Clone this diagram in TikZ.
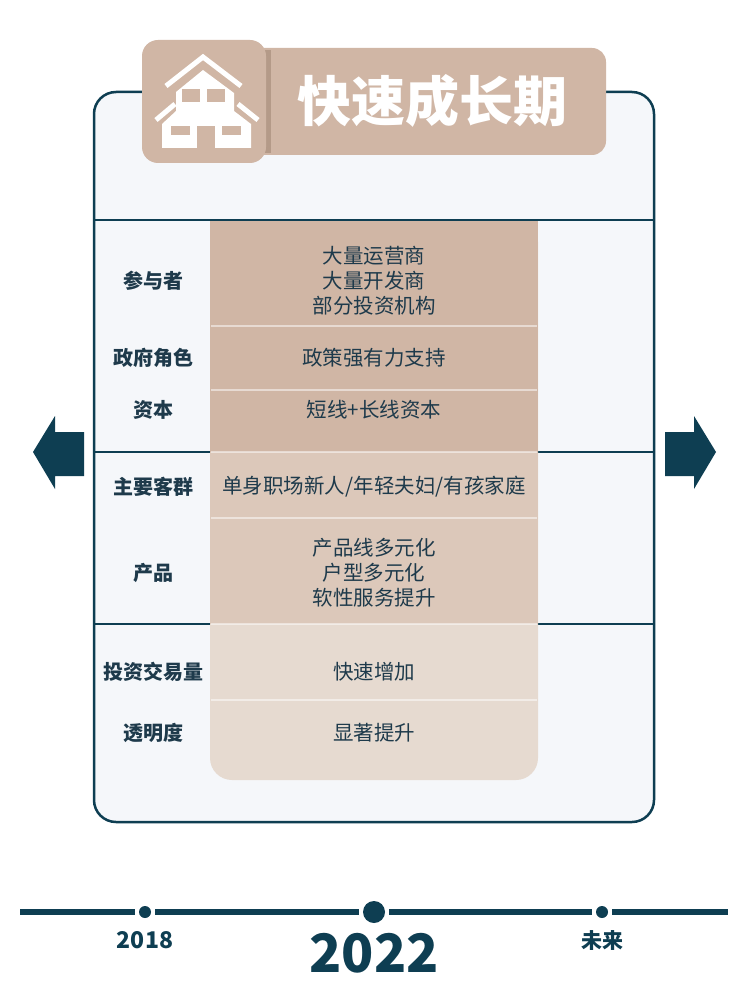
\documentclass[tikz,border=0pt]{standalone}
\usepackage{fontspec}
\setmainfont{Noto Sans CJK SC}
\usepackage{xcolor}
\usepackage{tikz}
\usetikzlibrary{positioning}
\definecolor{deepteal}{HTML}{0E3E52}
\definecolor{inkblue}{HTML}{1E3A4B}
\definecolor{panel}{HTML}{F5F7FA}
\definecolor{tanA}{HTML}{D0B6A5}
\definecolor{tanB}{HTML}{DCC8BA}
\definecolor{tanC}{HTML}{E6DAD0}
\definecolor{tanD}{HTML}{B49A88}
\tikzstyle{rowlabel} = [text=inkblue, font=\bfseries\fontsize{20}{24}\selectfont, align=center]
\tikzstyle{cell} = [text=inkblue, font=\fontsize{20.5}{25}\selectfont, align=center]
\tikzstyle{divider} = [draw=deepteal, line width=2.5pt]
\tikzstyle{seam} = [draw=white, opacity=0.5, line width=2pt]
\tikzstyle{dot} = [circle, fill=deepteal, inner sep=0pt, minimum size=12pt, outer sep=4pt]
\tikzstyle{year} = [text=deepteal, inner sep=0pt, font=\bfseries\fontsize{23}{26}\selectfont]

\begin{document}
\begin{tikzpicture}[x=1pt, y=-1pt]
  \useasboundingbox[fill=white] (0,0) rectangle (744,1000);
  \draw[deepteal, line width=2.5pt, fill=panel, rounded corners=22pt] (94,92) rectangle (654,822);
  \draw[divider] (94,452) -- (654,452);
  \draw[divider] (94,624) -- (654,624);
  \fill[tanC, rounded corners=22pt] (210,220) rectangle (538,780);
  \fill[tanA] (210,220) rectangle (538,452);
  \fill[tanB] (210,452) rectangle (538,624);
  \draw[divider] (94,220) -- (654,220);
  \foreach \y in {326,390,452,518,624,700}
    \draw[seam] (211,\y) -- (537,\y);
  \node[rowlabel] (l1) at (153,281) {参与者};
  \node[rowlabel] (l2) at (153,358) {政府角色};
  \node[rowlabel] (l3) at (153,410) {资本};
  \node[rowlabel] (l4) at (153,487) {主要客群};
  \node[rowlabel] (l5) at (153,573) {产品};
  \node[rowlabel] (l6) at (153,672) {投资交易量};
  \node[rowlabel] (l7) at (153,733) {透明度};
  \node[cell] (c1) at (374,281) {大量运营商\\大量开发商\\部分投资机构};
  \node[cell] (c2) at (374,358) {政策强有力支持};
  \node[cell] (c3) at (374,410) {短线+长线资本};
  \node[cell] (c4) at (374,487) {单身职场新人/年轻夫妇/有孩家庭};
  \node[cell] (c5) at (374,573) {产品线多元化\\户型多元化\\软性服务提升};
  \node[cell] (c6) at (374,672) {快速增加};
  \node[cell] (c7) at (374,733) {显著提升};
  \fill[tanA, rounded corners=14pt] (250,48) rectangle (606,155);
  \fill[tanD] (262,50) rectangle (271,153);
  \fill[tanA, rounded corners=16pt] (142,40) rectangle (266,163);
  \node[text=white, font=\bfseries\fontsize{54}{60}\selectfont] (title) at (432,101) {快速成长期};
  \draw[white, line width=5pt] (166,86) -- (203,57) -- (241,86);
  \draw[white, line width=5pt] (156,120) -- (175,104);
  \draw[white, line width=5pt] (238,104) -- (258,120);
  \fill[white] (176,92) -- (203,70) -- (234,93) -- (234,111) -- (251,124) -- (251,148) -- (162,148) -- (162,124) -- (176,111) -- cycle;
  \fill[tanA] (182,89) rectangle (200,102);
  \fill[tanA] (207,89) rectangle (225,102);
  \fill[tanA] (171,126) rectangle (190,135);
  \fill[tanA] (222,126) rectangle (241,135);
  \fill[tanA] (197,126) rectangle (215,148.5);
  \fill[deepteal] (33,452) -- (55,416) -- (55,432) -- (84,432) -- (84,476) -- (55,476) -- (55,489) -- cycle;
  \fill[deepteal] (716,452) -- (694,416) -- (694,432) -- (665,432) -- (665,476) -- (694,476) -- (694,489) -- cycle;
  \coordinate (tl) at (20,912);
  \coordinate (tr) at (728,912);
  \node[dot] (d1) at (145,912) {};
  \node[dot, minimum size=22pt] (d2) at (374,912) {};
  \node[dot] (d3) at (602,912) {};
  \draw[deepteal, line width=6pt] (tl) -- (d1) -- (d2) -- (d3) -- (tr);
  \node[year] (y1) at (145,940) {2018};
  \node[year, font=\bfseries\fontsize{53}{58}\selectfont] (y2) at (374,953) {2022};
  \node[year, font=\bfseries\fontsize{21}{24}\selectfont] (y3) at (602,940) {未来};
\end{tikzpicture}
\end{document}
